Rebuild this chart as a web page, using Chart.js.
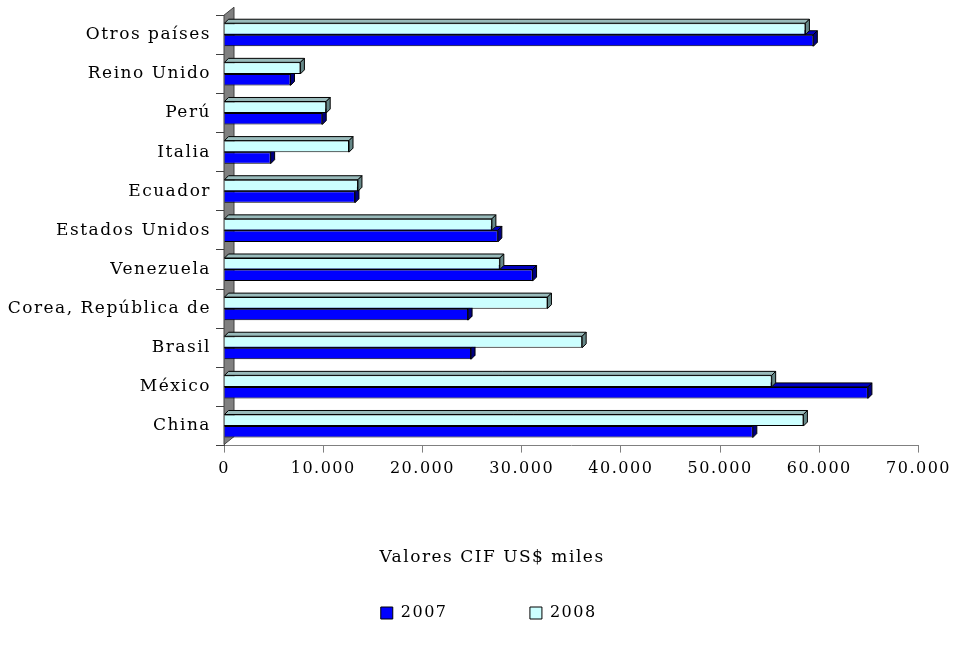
<!DOCTYPE html>
<html>
<head>
<meta charset="utf-8">
<script src="https://cdn.jsdelivr.net/npm/chart.js@4"></script>
<style>
  body { margin: 0; background: #fff; }
</style>
</head>
<body>
<canvas id="chart" width="958" height="654"></canvas>
<script>
// paises, de abajo hacia arriba
const paises = ['China', 'México', 'Brasil', 'Corea, República de', 'Venezuela',
  'Estados Unidos', 'Ecuador', 'Italia', 'Perú', 'Reino Unido', 'Otros países'];
// valores CIF en US$ miles
const v2007 = [53300, 64900, 24900, 24600, 31100, 27600, 13200, 4700, 9900, 6700, 59400];
const v2008 = [58400, 55200, 36100, 32600, 27800, 27000, 13500, 12600, 10300, 7700, 58600];
const xTicks = [0, 10000, 20000, 30000, 40000, 50000, 60000, 70000];

const serif = 'DejaVu Serif';

// espaciado de letras para imitar la tipografia ancha del original
const spacing = {
  id: 'spacing',
  beforeUpdate(chart) { chart.ctx.letterSpacing = '1.5px'; },
  beforeDraw(chart) { chart.ctx.letterSpacing = '1.5px'; },
  // titulo y leyenda centrados sobre la zona de la derecha, como en el original
  afterLayout(chart) {
    chart.legend.left = 64;
    chart.titleBlock.left = 64;
  }
};

// pared gris del grafico 3D
const wall = {
  id: 'wall',
  beforeDatasetsDraw(chart) {
    const { ctx, chartArea: a } = chart;
    ctx.save();
    ctx.beginPath();
    ctx.moveTo(a.left, a.top);
    ctx.lineTo(a.left + 10, a.top - 8);
    ctx.lineTo(a.left + 10, a.bottom - 9);
    ctx.lineTo(a.left, a.bottom - 1);
    ctx.closePath();
    ctx.fillStyle = '#808080';
    ctx.fill();
    ctx.strokeStyle = '#404040';
    ctx.lineWidth = 1;
    ctx.stroke();
    ctx.restore();
  }
};

// caras superior y lateral de cada barra
const depth = {
  id: 'depth',
  afterDatasetDraw(chart, args) {
    const { ctx } = chart;
    const ds = chart.data.datasets[args.index];
    const dx = 4, dy = -4;
    ctx.save();
    ctx.lineWidth = 1;
    ctx.strokeStyle = '#000';
    args.meta.data.forEach(el => {
      const p = el.getProps(['x', 'y', 'base', 'height'], true);
      const top = p.y - p.height / 2, bot = p.y + p.height / 2;
      ctx.beginPath();
      ctx.moveTo(p.base, top);
      ctx.lineTo(p.x, top);
      ctx.lineTo(p.x + dx, top + dy);
      ctx.lineTo(p.base + dx, top + dy);
      ctx.closePath();
      ctx.fillStyle = ds.topColor;
      ctx.fill();
      ctx.stroke();
      ctx.beginPath();
      ctx.moveTo(p.x, top);
      ctx.lineTo(p.x + dx, top + dy);
      ctx.lineTo(p.x + dx, bot + dy);
      ctx.lineTo(p.x, bot);
      ctx.closePath();
      ctx.fillStyle = ds.sideColor;
      ctx.fill();
      ctx.stroke();
    });
    ctx.restore();
  }
};

const ctx = document.getElementById('chart').getContext('2d');

new Chart(ctx, {
  type: 'bar',
  data: {
    labels: paises,
    datasets: [{
      label: '2008',
      data: v2008,
      backgroundColor: '#CCFFFF',
      topColor: '#99BBBB',
      sideColor: '#668888',
      borderColor: '#000',
      borderWidth: 1,
      categoryPercentage: 0.59,
      barPercentage: 1
    }, {
      label: '2007',
      data: v2007,
      backgroundColor: '#0000FF',
      topColor: '#0000C0',
      sideColor: '#000080',
      borderColor: '#000',
      borderWidth: 1,
      categoryPercentage: 0.59,
      barPercentage: 1
    }]
  },
  options: {
    indexAxis: 'y',
    responsive: false,
    animation: false,
    layout: { padding: { left: 0, right: 38, top: 13, bottom: 23 } },
    scales: {
      x: {
        min: 0,
        max: 70000,
        afterBuildTicks: s => { s.ticks = xTicks.map(v => ({ value: v })); },
        afterFit: s => { s.height = 33; },
        grid: { drawOnChartArea: false, tickLength: 7, color: '#808080' },
        border: { color: '#808080' },
        ticks: {
          padding: 7,
          color: '#000',
          font: { family: serif, size: 16 },
          maxRotation: 0,
          callback: v => String(v).replace(/\B(?=(\d{3})+(?!\d))/g, '.')
        }
      },
      y: {
        reverse: true,
        afterFit: s => { s.width = 224; },
        grid: { drawOnChartArea: false, tickLength: 8, color: '#404040' },
        border: { color: '#404040' },
        ticks: {
          padding: 5,
          color: '#000',
          font: { family: serif, size: 17 }
        }
      }
    },
    plugins: {
      tooltip: { enabled: false },
      title: {
        display: true,
        text: 'Valores CIF US$ miles',
        position: 'bottom',
        weight: 500,
        color: '#000',
        font: { family: serif, size: 17, weight: 'normal' },
        padding: { top: 69, bottom: 27 }
      },
      legend: {
        position: 'bottom',
        reverse: true,
        labels: {
          color: '#000',
          boxWidth: 12,
          boxHeight: 12,
          padding: 10,
          font: { family: serif, size: 16 },
          generateLabels: chart => {
            const items = Chart.defaults.plugins.legend.labels.generateLabels(chart);
            items.forEach(it => {
              it.text = it.text === '2007' ? it.text + '           ' : it.text + ' ';
            });
            return items;
          }
        }
      }
    }
  },
  plugins: [spacing, wall, depth]
});
</script>
</body>
</html>
